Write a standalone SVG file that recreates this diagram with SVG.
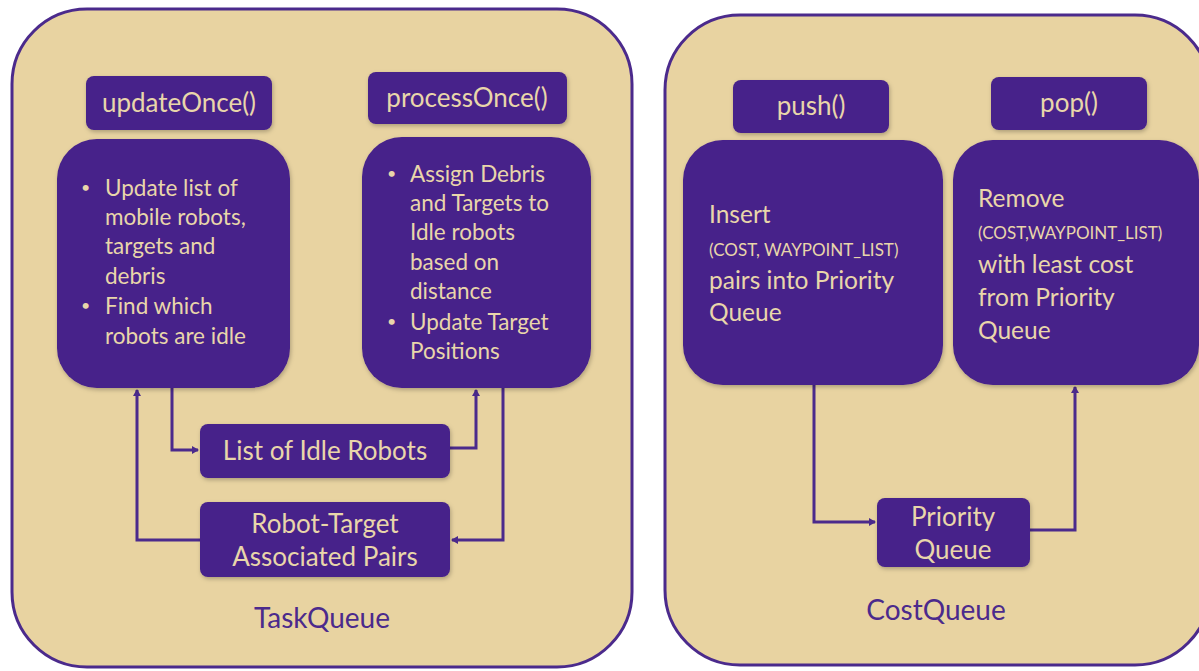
<svg xmlns="http://www.w3.org/2000/svg" width="1199" height="671" viewBox="0 0 1199 671">
<defs>
<filter id="sh" x="-10%" y="-10%" width="120%" height="130%"><feDropShadow dx="1" dy="2" stdDeviation="2" flood-color="#000" flood-opacity="0.25"/></filter>
<marker id="ah" markerWidth="8" markerHeight="8" refX="6" refY="4" orient="auto" markerUnits="userSpaceOnUse"><path d="M0,0 L7,4 L0,8 Z" fill="#4b2a8c"/></marker>
<style>
.cont{fill:#e8d3a1;stroke:#4b2a8c;stroke-width:3}
.box{fill:#46208a;filter:url(#sh)}
.t{font-family:Lato,"Open Sans",sans-serif;fill:#e9d6aa;font-size:22.5px}
.r{font-family:Lato,"Open Sans",sans-serif;fill:#e9d6aa;font-size:24.5px}
.b{font-family:Lato,"Open Sans",sans-serif;fill:#e9d6aa;font-size:16px}
.h{font-family:Lato,"Open Sans",sans-serif;fill:#e9d6aa;font-size:26px;text-anchor:middle}
.s{font-family:Lato,"Open Sans",sans-serif;fill:#e9d6aa;font-size:17px}
.lbl{font-family:Lato,"Open Sans",sans-serif;fill:#4b2a8c;font-size:28px;text-anchor:middle}
.c{fill:none;stroke:#4b2a8c;stroke-width:3;marker-end:url(#ah)}
</style>
</defs>
<g id="taskqueue">
<rect class="cont" x="12" y="9" width="620" height="658" rx="75"/>
<text class="lbl" x="322" y="628">TaskQueue</text>
</g>
<g id="costqueue">
<rect class="cont" x="665" y="15" width="545" height="650" rx="75"/>
<text class="lbl" x="936" y="620">CostQueue</text>
</g>
<g id="connectors">
<path class="c" d="M172,388 V450 H198"/>
<path class="c" d="M450,448 H476 V390"/>
<path class="c" d="M503,388 V540 H452"/>
<path class="c" d="M200,540 H137 V390"/>
<path class="c" d="M814,385 V522 H875"/>
<path class="c" d="M1030,530 H1075 V387"/>
</g>
<g id="updateOnce">
<rect class="box" x="86" y="76" width="186" height="54" rx="8"/>
<text class="h" x="179" y="112">updateOnce()</text>
</g>
<g id="processOnce">
<rect class="box" x="368" y="72" width="199" height="52" rx="8"/>
<text class="h" x="467" y="107">processOnce()</text>
</g>
<g id="updateBody">
<rect class="box" x="57" y="139" width="233" height="249" rx="40"/>
<text class="b" x="81" y="193">•</text>
<text class="t" x="105" y="196">Update list of</text>
<text class="t" x="105" y="225">mobile robots,</text>
<text class="t" x="105" y="254">targets and</text>
<text class="t" x="105" y="284">debris</text>
<text class="b" x="81" y="311">•</text>
<text class="t" x="105" y="314">Find which</text>
<text class="t" x="105" y="344">robots are idle</text>
</g>
<g id="processBody">
<rect class="box" x="362" y="137" width="229" height="251" rx="40"/>
<text class="b" x="387" y="179">•</text>
<text class="t" x="410" y="182">Assign Debris</text>
<text class="t" x="410" y="211">and Targets to</text>
<text class="t" x="410" y="240">Idle robots</text>
<text class="t" x="410" y="270">based on</text>
<text class="t" x="410" y="299">distance</text>
<text class="b" x="387" y="327">•</text>
<text class="t" x="410" y="330">Update Target</text>
<text class="t" x="410" y="359">Positions</text>
</g>
<g id="idleRobots">
<rect class="box" x="200" y="424" width="250" height="54" rx="8"/>
<text class="h" x="325" y="460">List of Idle Robots</text>
</g>
<g id="pairs">
<rect class="box" x="200" y="502" width="250" height="75" rx="8"/>
<text class="h" x="325" y="533">Robot-Target</text>
<text class="h" x="325" y="566">Associated Pairs</text>
</g>
<g id="push">
<rect class="box" x="733" y="80" width="156" height="53" rx="8"/>
<text class="h" x="811" y="115">push()</text>
</g>
<g id="pop">
<rect class="box" x="991" y="77" width="156" height="53" rx="8"/>
<text class="h" x="1069" y="112">pop()</text>
</g>
<g id="insertBody">
<rect class="box" x="683" y="140" width="260" height="245" rx="40"/>
<text class="r" x="709" y="223">Insert</text>
<text class="s" x="709" y="256">(COST, WAYPOINT_LIST)</text>
<text class="r" x="709" y="289">pairs into Priority</text>
<text class="r" x="709" y="321">Queue</text>
</g>
<g id="removeBody">
<rect class="box" x="953" y="140" width="246" height="245" rx="40"/>
<text class="r" x="978" y="207">Remove</text>
<text class="s" x="978" y="239">(COST,WAYPOINT_LIST)</text>
<text class="r" x="978" y="273">with least cost</text>
<text class="r" x="978" y="306">from Priority</text>
<text class="r" x="978" y="339">Queue</text>
</g>
<g id="priorityQueue">
<rect class="box" x="877" y="498" width="153" height="69" rx="8"/>
<text class="h" x="953" y="526">Priority</text>
<text class="h" x="953" y="559">Queue</text>
</g>
</svg>
